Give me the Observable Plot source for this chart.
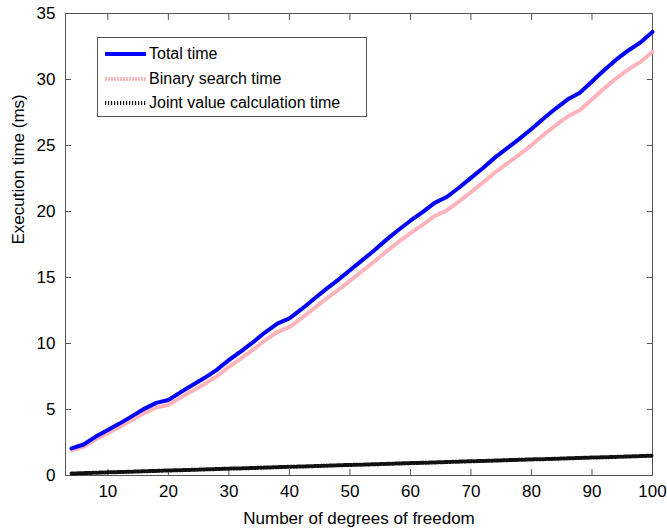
<!DOCTYPE html>
<html>
<head>
<meta charset="utf-8">
<script src="https://cdn.jsdelivr.net/npm/d3@7"></script>
<script src="https://cdn.jsdelivr.net/npm/@observablehq/plot@0.6"></script>
<style>
  html, body { margin: 0; padding: 0; background: #fff; }
  #wrap { position: relative; width: 667px; height: 532px; font-family: "Liberation Sans", Arial, sans-serif; }
  #legend { position: absolute; left: 97px; top: 37px; width: 270px; height: 80px; border: 1px solid #555; background: #fff; box-sizing: border-box; }
  .row { position: absolute; left: 7px; height: 20px; display: flex; align-items: center; font-size: 16px; color: #000; }
  .row svg { margin-right: 3px; }
</style>
</head>
<body>
<div id="wrap"></div>
<script>
const dof = [4,6,8,10,12,14,16,18,20,22,24,26,28,30,32,34,36,38,40,42,44,46,48,50,52,54,56,58,60,62,64,66,68,70,72,74,76,78,80,82,84,86,88,90,92,94,96,98,100];
const totalTime = [2.05,2.35,2.95,3.45,3.95,4.5,5.05,5.5,5.72,6.3,6.85,7.4,8.0,8.75,9.4,10.1,10.85,11.5,11.9,12.6,13.35,14.1,14.8,15.55,16.3,17.05,17.85,18.6,19.3,19.95,20.65,21.1,21.8,22.55,23.3,24.1,24.8,25.5,26.25,27.05,27.8,28.5,29.0,29.85,30.7,31.5,32.2,32.8,33.6];
const binaryTime = [1.90,2.17,2.74,3.21,3.69,4.21,4.73,5.15,5.34,5.90,6.42,6.94,7.51,8.23,8.86,9.53,10.25,10.87,11.24,11.92,12.64,13.36,14.03,14.75,15.48,16.20,16.97,17.69,18.36,18.99,19.66,20.08,20.75,21.47,22.20,22.97,23.64,24.31,25.03,25.81,26.53,27.20,27.67,28.49,29.32,30.09,30.76,31.33,32.10];
const jointTime = [0.15,0.18,0.21,0.24,0.26,0.29,0.32,0.35,0.38,0.40,0.43,0.46,0.49,0.52,0.54,0.57,0.60,0.63,0.66,0.68,0.71,0.74,0.77,0.80,0.82,0.85,0.88,0.91,0.94,0.96,0.99,1.02,1.05,1.08,1.10,1.13,1.16,1.19,1.22,1.24,1.27,1.30,1.33,1.36,1.38,1.41,1.44,1.47,1.50];
const seriesNames = ["Total time", "Binary search time", "Joint value calculation time"];
const xTicks = [10,20,30,40,50,60,70,80,90,100];
const yTicks = [0,5,10,15,20,25,30,35];

const rows = dof.map((d, i) => ({d, total: totalTime[i], binary: binaryTime[i], joint: jointTime[i]}));

const axisColor = "#555";
const jointDash = "1.2,1.8";
const chart = Plot.plot({
  width: 667,
  height: 532,
  marginLeft: 65,
  marginRight: 15,
  marginTop: 13,
  marginBottom: 57,
  style: {fontFamily: "'Liberation Sans', Arial, sans-serif", fontSize: "17px", color: "#000", background: "#fff"},
  x: {domain: [3, 100], ticks: xTicks, label: null},
  y: {domain: [0, 35], ticks: yTicks, label: null},
  marks: [
    Plot.frame({stroke: axisColor, strokeWidth: 1}),
    Plot.axisX({anchor: "bottom", ticks: xTicks, tickSize: -6, tickPadding: 15, stroke: axisColor, fontSize: 17, fill: "#000"}),
    Plot.axisX({anchor: "top", ticks: xTicks, tickSize: -6, text: null, stroke: axisColor}),
    Plot.axisY({anchor: "left", ticks: yTicks, tickSize: -6, tickPadding: 16, stroke: axisColor, fontSize: 17, fill: "#000"}),
    Plot.axisY({anchor: "right", ticks: yTicks, tickSize: -6, text: null, stroke: axisColor}),
    Plot.line(rows, {x: "d", y: "binary", stroke: "#ffb3ba", strokeWidth: 4, strokeDasharray: "2,1"}),
    Plot.line(rows, {x: "d", y: "total", stroke: "#0000ff", strokeWidth: 4}),
    Plot.line(rows, {x: "d", y: "joint", stroke: "#111", strokeWidth: 4, strokeDasharray: jointDash}),
    Plot.text([seriesNames[0]], {frameAnchor: "bottom", dy: 48, text: () => "Number of degrees of freedom", fontSize: 17, fill: "#000"}),
    Plot.text([0], {frameAnchor: "left", dx: -47, rotate: -90, text: () => "Execution time (ms)", fontSize: 17, fill: "#000"})
  ]
});

const wrap = document.getElementById("wrap");
wrap.appendChild(chart);

const legend = document.createElement("div");
legend.id = "legend";
const styles = [
  {stroke: "#0000ff", dash: null},
  {stroke: "#ffb3ba", dash: "2,1"},
  {stroke: "#111", dash: jointDash}
];
seriesNames.forEach((name, i) => {
  const r = document.createElement("div");
  r.className = "row";
  r.style.top = (6 + i * 24.5) + "px";
  const s = styles[i];
  r.innerHTML = `<svg width="41" height="8"><line x1="0" y1="4" x2="41" y2="4" stroke="${s.stroke}" stroke-width="4" ${s.dash ? `stroke-dasharray="${s.dash}"` : ""}/></svg><span>${name}</span>`;
  legend.appendChild(r);
});
wrap.appendChild(legend);
</script>
</body>
</html>
